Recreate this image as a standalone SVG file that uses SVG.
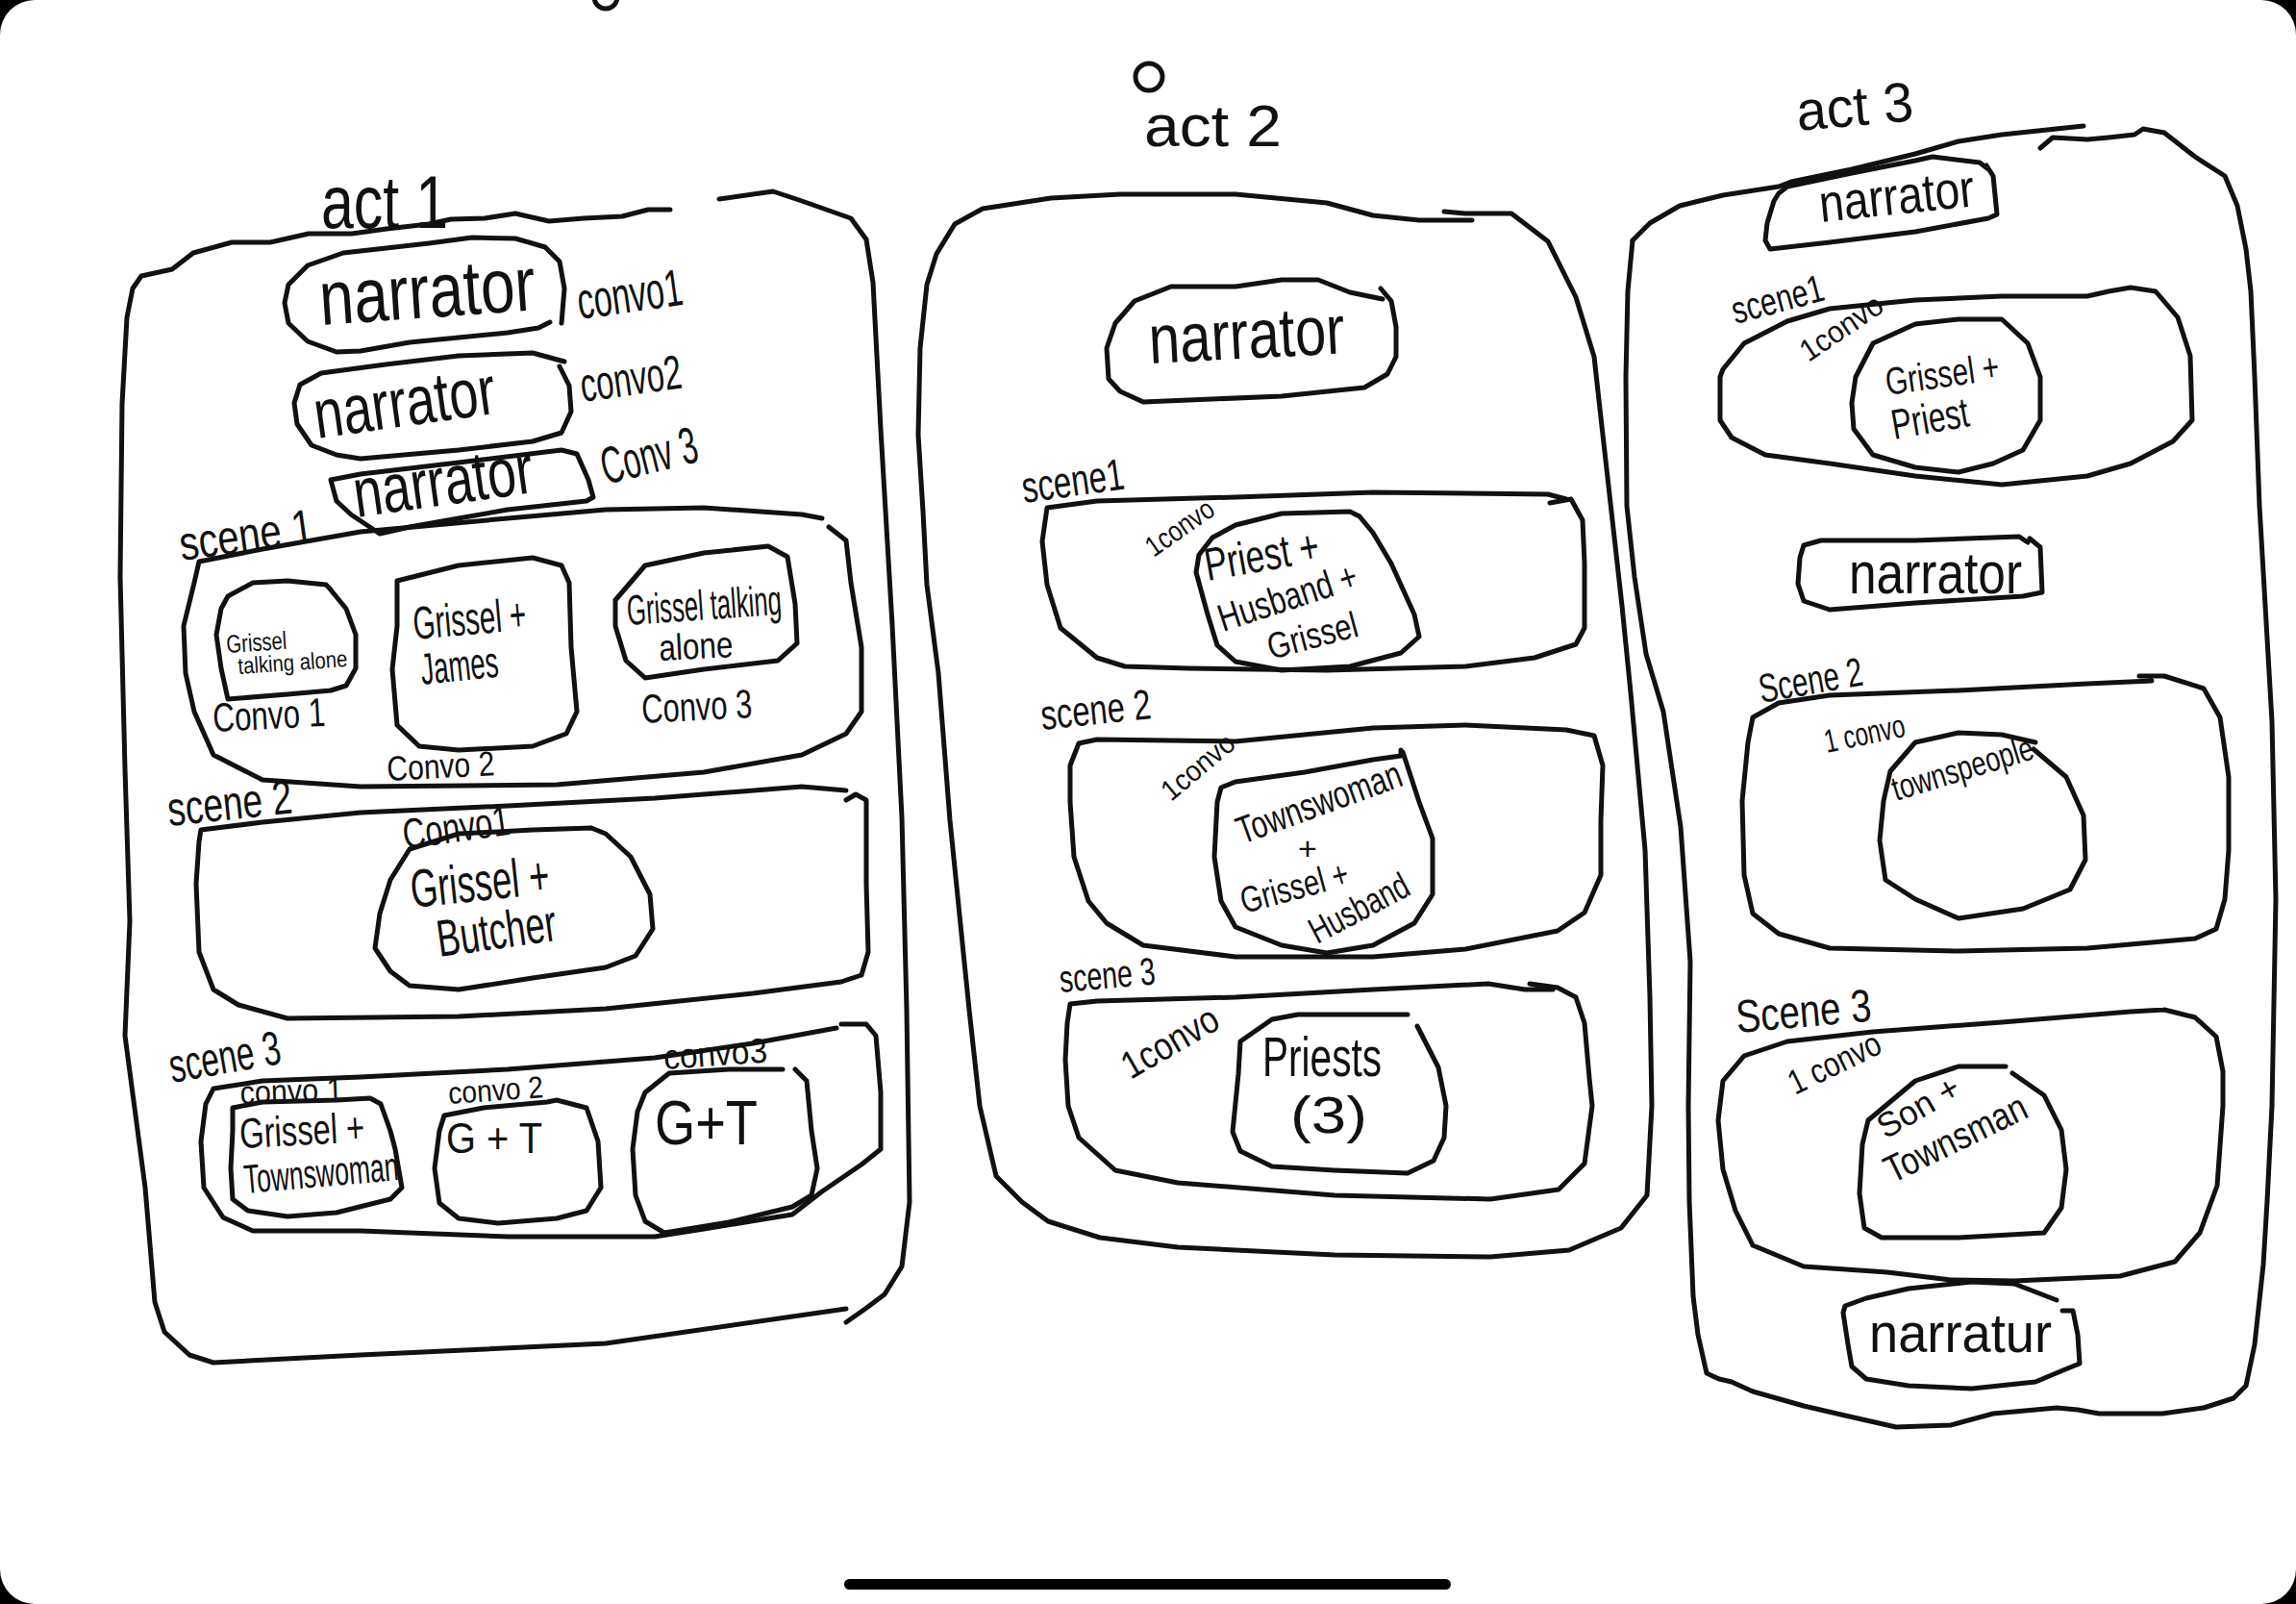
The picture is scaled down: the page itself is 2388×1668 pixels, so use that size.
<svg xmlns="http://www.w3.org/2000/svg" width="2388" height="1668" viewBox="0 0 2388 1668">
<style>
.ink{fill:none;stroke:#111;stroke-width:5;stroke-linecap:round;stroke-linejoin:round}
text{font-family:"Liberation Sans",Arial,sans-serif;fill:#111}
</style>
<rect x="0" y="0" width="2388" height="1668" fill="#000"/>
<rect x="0" y="0" width="2388" height="1668" rx="36" ry="36" fill="#fff"/>
<rect x="878" y="1642" width="631" height="11" rx="5.5" fill="#000"/>
<circle class="ink" cx="630" cy="-3" r="12"/>

<g id="act1">
<text x="334" y="237" font-size="78" textLength="132" lengthAdjust="spacingAndGlyphs">act 1</text>
<polyline class="ink" points="880,1361 630,1397 375,1409 222,1417 197,1409 171,1385 161,1354 151,1235 130,1077 135,958 130,800 125,600 127,420 132,330 138,300 147,287 179,280 201,263 241,252 281,252 321,243 366,243 402,238 446,233 469,228 504,227 536,222 571,230 607,227 647,225 674,218 697,218"/>
<polyline class="ink" points="748,207 804,199 834,209 885,227 901,249 908,294 916,446 928,650 938,850 943,1050 946,1250 938,1317 920,1346 900,1361 880,1375"/>
</g>

<g id="a1-narrator1">
<polyline class="ink" points="584,336 587,300 582,272 567,257 536,248 491,247 446,253 357,263 320,276 300,296 296,315 300,336 320,355 350,366 375,365 426,356 477,351 528,346 560,341 572,335"/>
<text x="334" y="338" font-size="80" textLength="225" lengthAdjust="spacingAndGlyphs" transform="rotate(-4 334 338)">narrator</text>
<text x="603" y="332" font-size="54" textLength="110" lengthAdjust="spacingAndGlyphs" transform="rotate(-8 603 332)">convo1</text>
</g>
<g id="a1-narrator2">
<polyline class="ink" points="587,376 554,367 477,370 401,379 334,388 312,400 306,419 309,441 324,463 350,473 375,477 477,468 554,459 584,450 594,428 592,401 582,381"/>
<text x="330" y="456" font-size="72" textLength="190" lengthAdjust="spacingAndGlyphs" transform="rotate(-8 330 456)">narrator</text>
<text x="606" y="418" font-size="50" textLength="106" lengthAdjust="spacingAndGlyphs" transform="rotate(-8 606 418)">convo2</text>
</g>
<g id="a1-narrator3">
<polyline class="ink" points="344,499 375,493 477,481 584,468 600,472 612,499 617,517 610,521 528,530 477,539 426,548 395,555 365,535 350,521 344,499"/>
<text x="371" y="538" font-size="72" textLength="188" lengthAdjust="spacingAndGlyphs" transform="rotate(-8 371 538)">narrator</text>
<text x="630" y="504" font-size="54" textLength="102" lengthAdjust="spacingAndGlyphs" transform="rotate(-14 630 504)">Conv 3</text>
</g>

<g id="a1-scene1">
<text x="189" y="583" font-size="50" textLength="140" lengthAdjust="spacingAndGlyphs" transform="rotate(-8 189 583)">scene 1</text>
<polyline class="ink" points="855,539 834,535 732,528 630,530 528,539 375,553 273,571 207,584 202,606 191,651 193,700 202,740 222,785 273,811 375,818 579,816 732,803 834,785 880,763 896,740 896,673 885,606 880,562 862,548"/>
</g>
<g id="a1-s1-convo1">
<polyline class="ink" points="344,613 339,608 299,604 263,606 237,620 230,633 225,660 230,695 237,727 299,722 344,718 360,713 370,695 370,660 360,633 342,611"/>
<text x="236" y="679" font-size="26" textLength="63" lengthAdjust="spacingAndGlyphs" transform="rotate(-4 236 679)">Grissel</text>
<text x="248" y="701" font-size="24" textLength="114" lengthAdjust="spacingAndGlyphs" transform="rotate(-4 248 701)">talking alone</text>
<text x="222" y="761" font-size="42" textLength="117" lengthAdjust="spacingAndGlyphs" transform="rotate(-3 222 761)">Convo 1</text>
</g>
<g id="a1-s1-convo2">
<polyline class="ink" points="421,602 413,604 413,651 408,696 413,754 436,776 477,780 554,776 589,763 600,740 594,673 592,606 584,588 554,580 477,588 421,602"/>
<text x="431" y="665" font-size="48" textLength="118" lengthAdjust="spacingAndGlyphs" transform="rotate(-5 431 665)">Grissel +</text>
<text x="439" y="712" font-size="46" textLength="81" lengthAdjust="spacingAndGlyphs" transform="rotate(-6 439 712)">James</text>
<text x="403" y="812" font-size="36" textLength="112" lengthAdjust="spacingAndGlyphs" transform="rotate(-3 403 812)">Convo 2</text>
</g>
<g id="a1-s1-convo3">
<polyline class="ink" points="640,624 671,588 732,575 799,568 819,579 827,628 829,669 809,687 732,696 671,705 651,687 640,651 640,624"/>
<text x="653" y="650" font-size="44" textLength="161" lengthAdjust="spacingAndGlyphs" transform="rotate(-4 653 650)">Grissel talking</text>
<text x="686" y="687" font-size="38" textLength="77" lengthAdjust="spacingAndGlyphs" transform="rotate(-3 686 687)">alone</text>
<text x="668" y="752" font-size="42" textLength="115" lengthAdjust="spacingAndGlyphs" transform="rotate(-3 668 752)">Convo 3</text>
</g>

<g id="a1-scene2">
<text x="176" y="859" font-size="50" textLength="130" lengthAdjust="spacingAndGlyphs" transform="rotate(-6 176 859)">scene 2</text>
<polyline class="ink" points="880,822 834,818 681,830 528,838 375,845 273,855 209,863 207,875 204,919 207,990 222,1029 248,1045 299,1059 477,1057 630,1049 783,1033 875,1021 896,1014 903,990 901,919 901,832 890,826 880,832"/>
</g>
<g id="a1-s2-convo1">
<text x="421" y="883" font-size="44" textLength="112" lengthAdjust="spacingAndGlyphs" transform="rotate(-8 421 883)">Convo1</text>
<polyline class="ink" points="615,861 554,863 477,867 426,883 406,915 395,950 390,986 406,1010 426,1025 477,1029 554,1017 630,1006 661,994 679,966 676,930 656,891 630,867 615,861"/>
<text x="429" y="944" font-size="56" textLength="145" lengthAdjust="spacingAndGlyphs" transform="rotate(-6 429 944)">Grissel +</text>
<text x="457" y="995" font-size="54" textLength="125" lengthAdjust="spacingAndGlyphs" transform="rotate(-8 457 995)">Butcher</text>
</g>

<g id="a1-scene3">
<text x="179" y="1126" font-size="50" textLength="117" lengthAdjust="spacingAndGlyphs" transform="rotate(-10 179 1126)">scene 3</text>
<polyline class="ink" points="870,1069 783,1085 681,1100 528,1112 375,1120 273,1124 222,1132 214,1148 209,1187 212,1235 232,1266 263,1280 375,1280 528,1286 681,1286 732,1278 824,1263 855,1239 896,1211 916,1195 916,1136 911,1077 901,1065 875,1065"/>
</g>
<g id="a1-s3-convo1">
<text x="250" y="1148" font-size="34" textLength="107" lengthAdjust="spacingAndGlyphs" transform="rotate(-2 250 1148)">convo 1</text>
<polyline class="ink" points="242,1152 273,1146 350,1144 385,1142 396,1148 406,1176 411,1195 418,1235 406,1247 350,1261 299,1265 258,1259 242,1247 240,1215 242,1176 242,1152"/>
<text x="250" y="1194" font-size="44" textLength="130" lengthAdjust="spacingAndGlyphs" transform="rotate(-3 250 1194)">Grissel +</text>
<text x="255" y="1241" font-size="42" textLength="161" lengthAdjust="spacingAndGlyphs" transform="rotate(-5 255 1241)">Townswoman</text>
</g>
<g id="a1-s3-convo2">
<text x="467" y="1148" font-size="32" textLength="99" lengthAdjust="spacingAndGlyphs" transform="rotate(-4 467 1148)">convo 2</text>
<polyline class="ink" points="462,1160 503,1152 569,1146 579,1144 610,1152 622,1187 625,1235 610,1259 579,1267 518,1272 477,1267 457,1251 452,1215 457,1176 462,1160"/>
<text x="464" y="1199" font-size="44" textLength="100" lengthAdjust="spacingAndGlyphs">G + T</text>
</g>
<g id="a1-s3-convo3">
<text x="691" y="1112" font-size="36" textLength="108" lengthAdjust="spacingAndGlyphs" transform="rotate(-4 691 1112)">convo3</text>
<polyline class="ink" points="814,1112 758,1112 696,1116 671,1136 663,1156 658,1195 661,1243 671,1270 691,1282 758,1271 824,1255 844,1243 850,1215 844,1176 839,1124 827,1112"/>
<text x="681" y="1190" font-size="64" textLength="107" lengthAdjust="spacingAndGlyphs">G+T</text>
</g>

<g id="act2">
<circle class="ink" cx="1195" cy="80" r="14"/>
<text x="1190" y="152" font-size="62" textLength="143" lengthAdjust="spacingAndGlyphs">act 2</text>
<polyline class="ink" points="1531,229 1476,229 1428,224 1380,211 1285,202 1165,202 1093,206 1022,217 993,233 974,264 964,296 957,362 955,452 960,532 964,608 976,700 988,853 1008,1050 1019,1150 1036,1223 1063,1250 1090,1270 1144,1287 1225,1297 1388,1305 1550,1307 1632,1300 1686,1277 1713,1243 1718,1150 1716,1037 1711,884 1696,720 1687,630 1677,541 1667,452 1658,371 1639,309 1610,251 1572,222 1524,222 1502,220"/>
</g>
<g id="a2-narrator">
<polyline class="ink" points="1436,300 1447,313 1452,340 1452,371 1443,389 1419,403 1333,412 1189,418 1165,407 1153,394 1151,362 1160,336 1180,313 1218,298 1285,298 1333,291 1371,291 1404,304 1438,311"/>
<text x="1196" y="378" font-size="72" textLength="204" lengthAdjust="spacingAndGlyphs" transform="rotate(-3 1196 378)">narrator</text>
</g>
<g id="a2-scene1">
<text x="1065" y="523" font-size="46" textLength="107" lengthAdjust="spacingAndGlyphs" transform="rotate(-8 1065 523)">scene1</text>
<polyline class="ink" points="1629,519 1610,514 1428,512 1285,517 1141,521 1089,528 1084,563 1089,608 1103,653 1141,684 1170,693 1237,695 1380,697 1524,693 1596,684 1639,670 1648,653 1648,586 1646,541 1634,519 1612,523"/>
<text x="1200" y="580" font-size="30" textLength="80" lengthAdjust="spacingAndGlyphs" transform="rotate(-35 1200 580)">1convo</text>
</g>
<g id="a2-s1-convo">
<polyline class="ink" points="1414,537 1428,554 1447,586 1471,639 1476,662 1457,679 1404,693 1333,697 1285,688 1266,671 1256,639 1244,595 1247,577 1261,559 1285,546 1333,534 1404,532 1414,537"/>
<text x="1256" y="604" font-size="48" textLength="120" lengthAdjust="spacingAndGlyphs" transform="rotate(-10 1256 604)">Priest +</text>
<text x="1272" y="657" font-size="40" textLength="150" lengthAdjust="spacingAndGlyphs" transform="rotate(-18 1272 657)">Husband +</text>
<text x="1322" y="686" font-size="38" textLength="96" lengthAdjust="spacingAndGlyphs" transform="rotate(-15 1322 686)">Grissel</text>
</g>
<g id="a2-scene2">
<text x="1084" y="759" font-size="44" textLength="115" lengthAdjust="spacingAndGlyphs" transform="rotate(-6 1084 759)">scene 2</text>
<polyline class="ink" points="1629,759 1524,754 1428,757 1285,771 1141,769 1122,773 1113,796 1113,834 1117,891 1132,937 1151,960 1189,983 1285,995 1428,995 1524,987 1620,968 1648,949 1665,910 1665,853 1667,796 1658,765 1629,759"/>
<text x="1218" y="834" font-size="30" textLength="90" lengthAdjust="spacingAndGlyphs" transform="rotate(-40 1218 834)">1convo</text>
</g>
<g id="a2-s2-convo">
<polyline class="ink" points="1457,780 1457,786 1428,790 1357,803 1285,813 1270,819 1266,834 1263,891 1270,937 1285,964 1333,983 1380,991 1404,987 1428,983 1471,960 1490,930 1490,872 1476,834 1459,782"/>
<text x="1292" y="878" font-size="40" textLength="180" lengthAdjust="spacingAndGlyphs" transform="rotate(-20 1292 878)">Townswoman</text>
<text x="1350" y="894" font-size="34">+</text>
<text x="1294" y="950" font-size="38" textLength="115" lengthAdjust="spacingAndGlyphs" transform="rotate(-15 1294 950)">Grissel +</text>
<text x="1370" y="982" font-size="38" textLength="112" lengthAdjust="spacingAndGlyphs" transform="rotate(-28 1370 982)">Husband</text>
</g>
<g id="a2-scene3">
<text x="1103" y="1032" font-size="40" textLength="100" lengthAdjust="spacingAndGlyphs" transform="rotate(-5 1103 1032)">scene 3</text>
<polyline class="ink" points="1615,1029 1586,1029 1548,1023 1428,1029 1285,1037 1141,1041 1113,1044 1110,1064 1108,1102 1111,1150 1122,1183 1160,1217 1225,1230 1388,1243 1550,1247 1621,1237 1648,1210 1656,1150 1653,1121 1648,1064 1639,1037 1620,1027 1591,1023"/>
<text x="1176" y="1123" font-size="40" textLength="110" lengthAdjust="spacingAndGlyphs" transform="rotate(-30 1176 1123)">1convo</text>
</g>
<g id="a2-s3-convo">
<polyline class="ink" points="1464,1055 1350,1055 1323,1060 1290,1083 1288,1117 1282,1177 1290,1197 1323,1213 1388,1217 1464,1220 1491,1207 1502,1183 1504,1150 1496,1110 1474,1067"/>
<text x="1313" y="1119" font-size="58" textLength="124" lengthAdjust="spacingAndGlyphs">Priests</text>
<text x="1342" y="1178" font-size="54" textLength="80" lengthAdjust="spacingAndGlyphs">(3)</text>
</g>

<g id="act3">
<text x="1870" y="136" font-size="58" textLength="122" lengthAdjust="spacingAndGlyphs" transform="rotate(-5 1870 136)">act 3</text>
<polyline class="ink" points="1698,250 1716,232 1747,214 1792,203 1850,194 1863,189 1926,176 1992,160 2037,147 2082,140 2167,131"/>
<polyline class="ink" points="2122,154 2135,143 2171,145 2193,143 2220,140 2229,134 2251,138 2283,163 2314,183 2327,214 2336,259 2341,303 2345,392 2350,526 2363,750 2367,935 2363,1150 2358,1249 2354,1315 2345,1398 2336,1441 2323,1454 2292,1464 2249,1470 2183,1470 2161,1466 2139,1464 2073,1470 2029,1482 1972,1484 1919,1472 1876,1462 1823,1447 1801,1437 1788,1434 1775,1428 1766,1388 1761,1348 1757,1249 1756,1150 1758,1000 1748,860 1730,740 1712,680 1700,600 1692,526 1691,392 1693,303 1698,250"/>
</g>
<g id="a3-narrator-top">
<polyline class="ink" points="2066,172 2073,183 2077,223 2068,227 1992,241 1903,252 1841,259 1836,250 1838,232 1845,209 1850,201 1859,194 1926,180 1992,167 2010,163 2059,169 2068,176"/>
<text x="1894" y="231" font-size="55" textLength="162" lengthAdjust="spacingAndGlyphs" transform="rotate(-6 1894 231)">narrator</text>
</g>
<g id="a3-scene1">
<text x="1805" y="337" font-size="40" textLength="98" lengthAdjust="spacingAndGlyphs" transform="rotate(-15 1805 337)">scene1</text>
<polyline class="ink" points="2216,299 2193,303 2171,308 2082,308 1992,312 1903,321 1859,334 1814,357 1792,384 1789,392 1789,437 1801,455 1836,473 1903,482 1992,495 2082,504 2171,495 2216,482 2260,459 2280,437 2278,370 2265,330 2242,303 2216,299"/>
<text x="1881" y="377" font-size="32" textLength="97" lengthAdjust="spacingAndGlyphs" transform="rotate(-34 1881 377)">1convo</text>
</g>
<g id="a3-s1-convo">
<polyline class="ink" points="1930,392 1948,357 1992,337 2037,332 2082,332 2109,357 2122,392 2122,437 2104,468 2073,482 2037,491 1992,486 1948,473 1928,446 1926,419 1930,392"/>
<text x="1963" y="411" font-size="40" textLength="119" lengthAdjust="spacingAndGlyphs" transform="rotate(-8 1963 411)">Grissel +</text>
<text x="1970" y="457" font-size="44" textLength="81" lengthAdjust="spacingAndGlyphs" transform="rotate(-10 1970 457)">Priest</text>
</g>
<g id="a3-narrator-mid">
<polyline class="ink" points="2109,564 2100,558 1992,562 1894,562 1876,567 1872,580 1870,607 1876,625 1903,634 1992,627 2104,620 2124,616 2122,569 2111,560"/>
<text x="1923" y="617" font-size="62" textLength="180" lengthAdjust="spacingAndGlyphs">narrator</text>
</g>
<g id="a3-scene2">
<text x="1832" y="731" font-size="42" textLength="109" lengthAdjust="spacingAndGlyphs" transform="rotate(-10 1832 731)">Scene 2</text>
<polyline class="ink" points="2238,708 2171,711 2037,718 1903,723 1850,731 1823,746 1818,772 1812,833 1814,910 1823,950 1850,971 1903,986 2037,989 2171,986 2283,976 2305,966 2314,935 2318,884 2318,808 2309,746 2292,716 2251,703 2225,703"/>
<text x="1900" y="783" font-size="34" textLength="85" lengthAdjust="spacingAndGlyphs" transform="rotate(-12 1900 783)">1 convo</text>
</g>
<g id="a3-s2-convo">
<polyline class="ink" points="2117,772 2082,764 2037,762 1992,772 1966,802 1959,833 1955,874 1961,915 1992,935 2037,955 2104,945 2153,925 2169,894 2167,848 2149,808 2115,779"/>
<text x="1972" y="833" font-size="36" textLength="152" lengthAdjust="spacingAndGlyphs" transform="rotate(-17 1972 833)">townspeople</text>
</g>
<g id="a3-scene3">
<text x="1807" y="1074" font-size="48" textLength="141" lengthAdjust="spacingAndGlyphs" transform="rotate(-5 1807 1074)">Scene 3</text>
<polyline class="ink" points="2251,1050 2216,1052 2082,1063 1948,1073 1859,1083 1814,1098 1792,1124 1787,1165 1792,1216 1805,1259 1823,1295 1876,1317 1963,1323 2029,1331 2095,1332 2205,1327 2262,1312 2288,1282 2306,1233 2312,1150 2312,1114 2305,1078 2283,1058 2251,1050"/>
<text x="1867" y="1139" font-size="36" textLength="103" lengthAdjust="spacingAndGlyphs" transform="rotate(-26 1867 1139)">1 convo</text>
</g>
<g id="a3-s3-convo">
<polyline class="ink" points="2086,1109 2037,1109 1992,1124 1943,1165 1937,1190 1934,1241 1939,1277 1957,1287 2037,1287 2126,1282 2144,1256 2149,1216 2144,1175 2126,1139 2093,1116"/>
<text x="1961" y="1185" font-size="36" textLength="93" lengthAdjust="spacingAndGlyphs" transform="rotate(-30 1961 1185)">Son +</text>
<text x="1968" y="1231" font-size="40" textLength="160" lengthAdjust="spacingAndGlyphs" transform="rotate(-26 1968 1231)">Townsman</text>
</g>
<g id="a3-narrator-bottom">
<polyline class="ink" points="2139,1352 2095,1335 2051,1333 1985,1340 1941,1350 1919,1358 1917,1365 1922,1398 1926,1421 1941,1434 1985,1441 2051,1444 2117,1437 2148,1424 2163,1418 2161,1388 2156,1363 2145,1363"/>
<text x="1944" y="1406" font-size="58" textLength="190" lengthAdjust="spacingAndGlyphs">narratur</text>
</g>
<g id="connectors"></g>
</svg>
